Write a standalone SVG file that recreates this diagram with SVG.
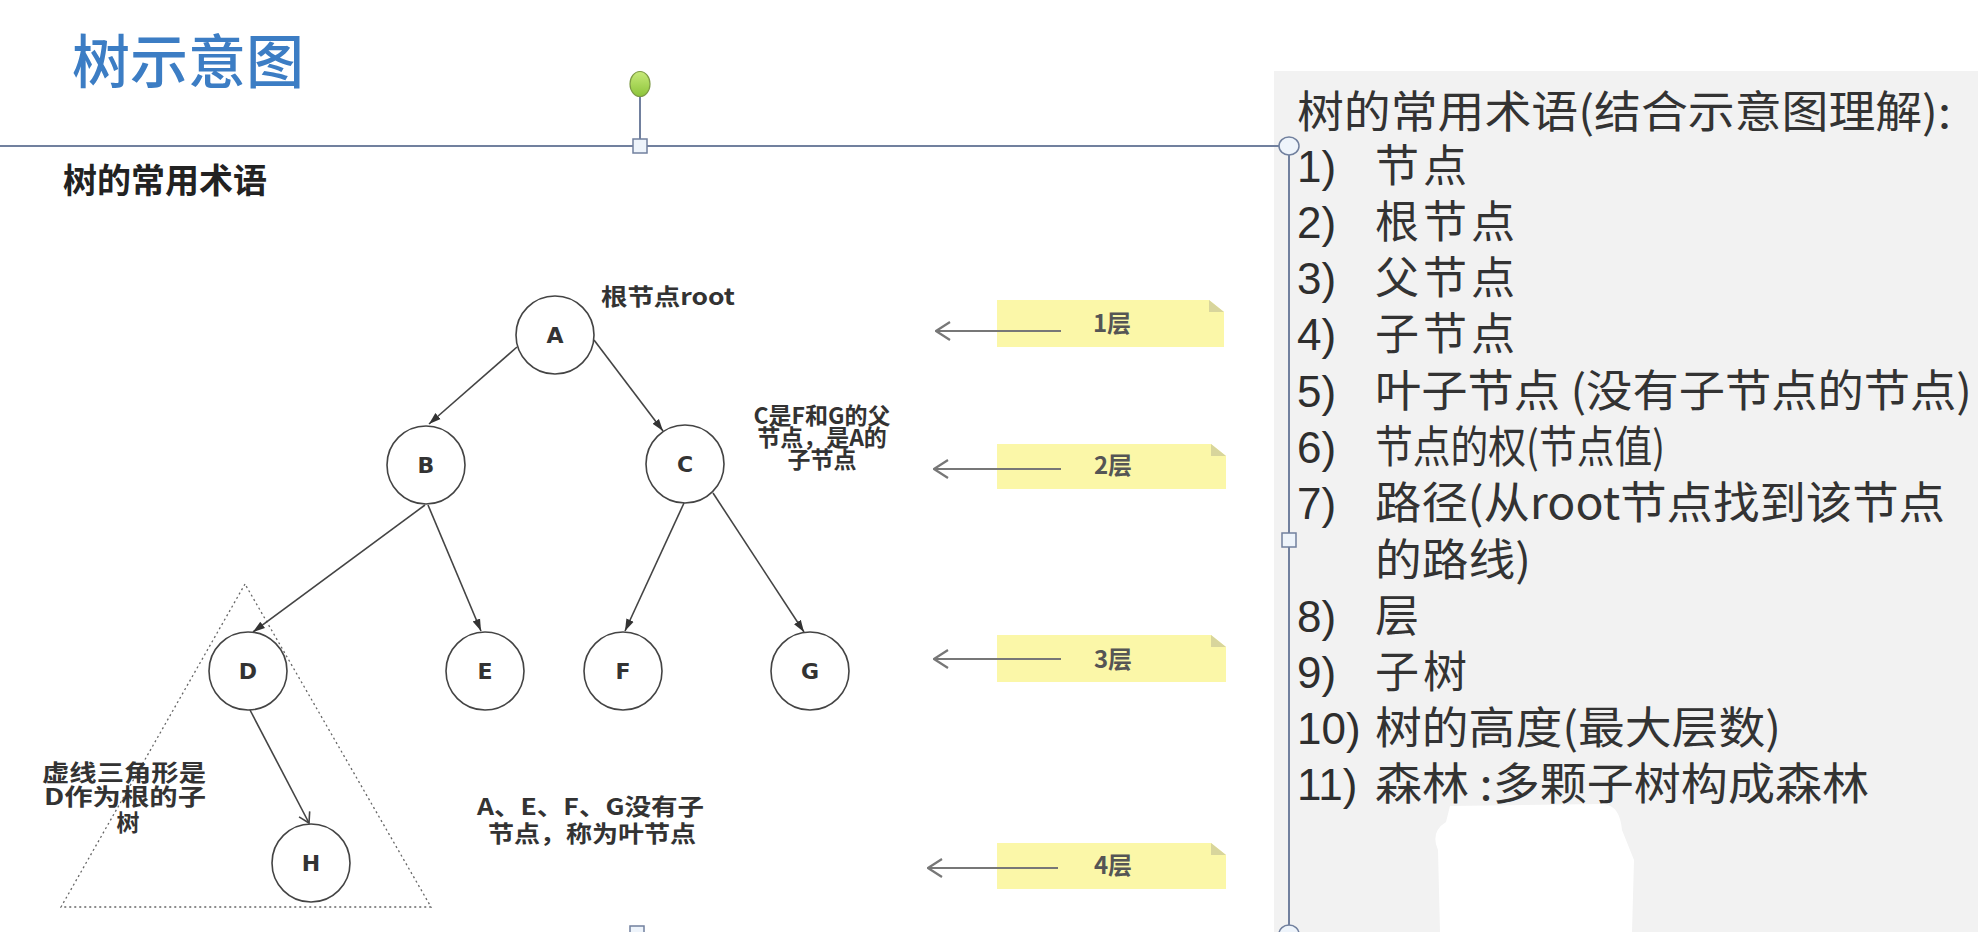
<svg xmlns="http://www.w3.org/2000/svg" width="1978" height="932" viewBox="0 0 1978 932">
<defs>
<style>
.cjk{font-family:"Noto Sans CJK SC","Noto Sans",sans-serif}
.title{font-size:58px;font-weight:500;fill:#3c7dc4}
.sub{font-size:34px;font-weight:bold;fill:#222}
.node circle{fill:#fff;stroke:#444;stroke-width:1.6}
.node text{font-family:"DejaVu Sans",sans-serif;font-weight:bold;font-size:22px;fill:#333;text-anchor:middle}
.edge{stroke:#444;stroke-width:1.6;fill:none}
.lbl{font-size:23px;font-weight:bold;fill:#333}
.note{fill:#fbf7a8}
.fold{fill:#d8d59c}
.ntext{font-size:24px;font-weight:bold;fill:#555;text-anchor:middle}
.larr{stroke:#777;stroke-width:2.2;fill:none}
.sel{stroke:#71809e;stroke-width:2;fill:none}
.handle{fill:#eef4fb;stroke:#71809e;stroke-width:1.5}
.num{font-family:"Liberation Sans",Arial,sans-serif;font-size:44px;fill:#2e2e2e}
.item{font-size:44px;fill:#333}
</style>
<marker id="arr" viewBox="0 0 12 10" refX="12" refY="5" markerWidth="12" markerHeight="10" markerUnits="userSpaceOnUse" orient="auto"><path d="M0,1 L12,5 L0,9 z" fill="#333"/></marker>
<marker id="chev" viewBox="0 0 16 20" refX="15" refY="10" markerWidth="16" markerHeight="20" markerUnits="userSpaceOnUse" orient="auto"><path d="M1,1 L15,10 L1,19" fill="none" stroke="#777" stroke-width="2.2"/></marker>
<marker id="chevs" viewBox="0 0 12 14" refX="11" refY="7" markerWidth="12" markerHeight="14" markerUnits="userSpaceOnUse" orient="auto"><path d="M1,1 L11,7 L1,13" fill="none" stroke="#444" stroke-width="1.6"/></marker>
<linearGradient id="green" x1="0" y1="0" x2="0" y2="1"><stop offset="0" stop-color="#c8ea7a"/><stop offset="1" stop-color="#8cc43a"/></linearGradient>
</defs>

<rect x="0" y="0" width="1978" height="932" fill="#fff"/>
<rect id="panel" x="1274" y="71" width="704" height="861" fill="#f2f2f2"/>
<path id="blot" d="M1450,806 L1604,804 Q1620,806 1622,830 L1634,860 L1632,932 L1440,932 L1438,850 Q1430,832 1446,822 Z" fill="#fff"/>

<g id="title"><text class="cjk title" x="72" y="83">树示意图</text></g>

<g id="selection">
<line class="sel" x1="0" y1="146" x2="1280" y2="146"/>
<line class="sel" x1="1289" y1="146" x2="1289" y2="932"/>
<line class="sel" x1="640" y1="96" x2="640" y2="139"/>
<ellipse cx="640" cy="84" rx="10" ry="12.5" fill="url(#green)" stroke="#7d9a44" stroke-width="1.2"/>
<rect class="handle" x="633" y="139" width="14" height="14"/>
<ellipse class="handle" cx="1289" cy="146" rx="10" ry="9"/>
<rect class="handle" x="1282" y="533" width="14" height="14"/>
<ellipse class="handle" cx="1289" cy="934" rx="10" ry="9"/>
<rect class="handle" x="630" y="926" width="14" height="14"/>
</g>

<g id="subtitle"><text class="cjk sub" x="63" y="193">树的常用术语</text></g>

<g id="subtree-triangle"><path d="M245,584 L61,907 L431,907 Z" fill="none" stroke="#666" stroke-width="1.3" stroke-dasharray="2 3"/></g>

<g id="edges">
<line class="edge" x1="517" y1="347" x2="429" y2="424" marker-end="url(#arr)"/>
<line class="edge" x1="594" y1="340" x2="663" y2="431" marker-end="url(#arr)"/>
<line class="edge" x1="425" y1="505" x2="253" y2="632" marker-end="url(#arr)"/>
<line class="edge" x1="428" y1="505" x2="481" y2="631" marker-end="url(#arr)"/>
<line class="edge" x1="684" y1="503" x2="625" y2="631" marker-end="url(#arr)"/>
<line class="edge" x1="713" y1="493" x2="804" y2="632" marker-end="url(#arr)"/>
<line class="edge" x1="250" y1="710" x2="309" y2="823" marker-end="url(#chevs)"/>
</g>

<g id="node-A" class="node"><circle cx="555" cy="335" r="39"/><text x="555" y="343">A</text></g>
<g id="node-B" class="node"><circle cx="426" cy="465" r="39"/><text x="426" y="473">B</text></g>
<g id="node-C" class="node"><circle cx="685" cy="464" r="39"/><text x="685" y="472">C</text></g>
<g id="node-D" class="node"><circle cx="248" cy="671" r="39"/><text x="248" y="679">D</text></g>
<g id="node-E" class="node"><circle cx="485" cy="671" r="39"/><text x="485" y="679">E</text></g>
<g id="node-F" class="node"><circle cx="623" cy="671" r="39"/><text x="623" y="679">F</text></g>
<g id="node-G" class="node"><circle cx="810" cy="671" r="39"/><text x="810" y="679">G</text></g>
<g id="node-H" class="node"><circle cx="311" cy="863" r="39"/><text x="311" y="871">H</text></g>

<g id="label-root"><text class="cjk lbl" x="601" y="305" font-size="24" textLength="134" lengthAdjust="spacingAndGlyphs">根节点root</text></g>
<g id="label-C"><text class="cjk lbl" text-anchor="middle" font-size="22"><tspan x="822" y="424">C是F和G的父</tspan><tspan x="822" y="446">节点，是A的</tspan><tspan x="822" y="468">子节点</tspan></text></g>
<g id="label-subtree">
<text class="cjk lbl" x="42" y="781" font-size="25" textLength="164" lengthAdjust="spacingAndGlyphs">虚线三角形是</text>
<text class="cjk lbl" x="44" y="805" font-size="25" textLength="162" lengthAdjust="spacingAndGlyphs">D作为根的子</text>
<text class="cjk lbl" x="128" y="831" font-size="25" text-anchor="middle">树</text>
</g>
<g id="label-leaf">
<text class="cjk lbl" x="477" y="815" font-size="25" textLength="227" lengthAdjust="spacingAndGlyphs">A、E、F、G没有子</text>
<text class="cjk lbl" x="488" y="842" font-size="25" textLength="208" lengthAdjust="spacingAndGlyphs">节点，称为叶节点</text>
</g>

<g id="layer-1">
<path class="note" d="M997,300 L1209,300 L1224,312 L1224,347 L997,347 Z"/>
<path class="fold" d="M1209,300 L1209,312 L1224,312 Z"/>
<line class="larr" x1="1061" y1="331" x2="936" y2="331" marker-end="url(#chev)"/>
<text class="cjk ntext" x="1112" y="332">1层</text>
</g>
<g id="layer-2">
<path class="note" d="M997,444 L1211,444 L1226,456 L1226,489 L997,489 Z"/>
<path class="fold" d="M1211,444 L1211,456 L1226,456 Z"/>
<line class="larr" x1="1061" y1="469" x2="934" y2="469" marker-end="url(#chev)"/>
<text class="cjk ntext" x="1113" y="474">2层</text>
</g>
<g id="layer-3">
<path class="note" d="M997,635 L1211,635 L1226,647 L1226,682 L997,682 Z"/>
<path class="fold" d="M1211,635 L1211,647 L1226,647 Z"/>
<line class="larr" x1="1061" y1="659" x2="934" y2="659" marker-end="url(#chev)"/>
<text class="cjk ntext" x="1113" y="668">3层</text>
</g>
<g id="layer-4">
<path class="note" d="M997,843 L1211,843 L1226,855 L1226,889 L997,889 Z"/>
<path class="fold" d="M1211,843 L1211,855 L1226,855 Z"/>
<line class="larr" x1="1058" y1="868" x2="928" y2="868" marker-end="url(#chev)"/>
<text class="cjk ntext" x="1113" y="874">4层</text>
</g>

<g id="terms">
<text class="cjk item" x="1297" y="128" textLength="654" lengthAdjust="spacingAndGlyphs">树的常用术语(结合示意图理解):</text>
<text class="num" x="1297" y="182">1)</text><text class="cjk item" x="1375" y="182" letter-spacing="4">节点</text>
<text class="num" x="1297" y="238">2)</text><text class="cjk item" x="1375" y="238" letter-spacing="4">根节点</text>
<text class="num" x="1297" y="294">3)</text><text class="cjk item" x="1375" y="294" letter-spacing="4">父节点</text>
<text class="num" x="1297" y="350">4)</text><text class="cjk item" x="1375" y="350" letter-spacing="4">子节点</text>
<text class="num" x="1297" y="407">5)</text><text class="cjk item" x="1375" y="407" textLength="597" lengthAdjust="spacingAndGlyphs">叶子节点 (没有子节点的节点)</text>
<text class="num" x="1297" y="463">6)</text><text class="cjk item" x="1375" y="463" textLength="290" lengthAdjust="spacingAndGlyphs">节点的权(节点值)</text>
<text class="num" x="1297" y="519">7)</text><text class="cjk item" x="1375" y="519" textLength="570" lengthAdjust="spacingAndGlyphs">路径(从root节点找到该节点</text>
<text class="cjk item" x="1375" y="576" textLength="156" lengthAdjust="spacingAndGlyphs">的路线)</text>
<text class="num" x="1297" y="632">8)</text><text class="cjk item" x="1375" y="632">层</text>
<text class="num" x="1297" y="688">9)</text><text class="cjk item" x="1375" y="688" letter-spacing="4">子树</text>
<text class="num" x="1297" y="744">10)</text><text class="cjk item" x="1375" y="744" textLength="406" lengthAdjust="spacingAndGlyphs">树的高度(最大层数)</text>
<text class="num" x="1297" y="800">11)</text><text class="cjk item" x="1375" y="800" textLength="494" lengthAdjust="spacingAndGlyphs">森林 :多颗子树构成森林</text>
</g>
</svg>
